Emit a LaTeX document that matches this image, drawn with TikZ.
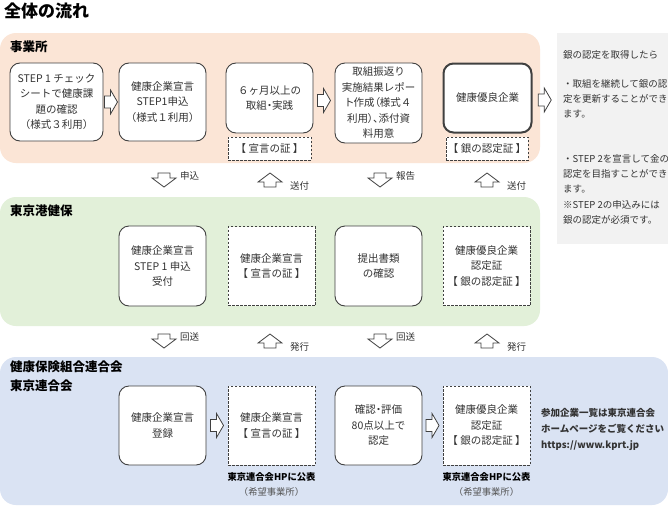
\documentclass[tikz,border=0pt]{standalone}
\usepackage{fontspec}
\setmainfont{Noto Sans CJK JP}
\newfontfamily\pfont{Noto Sans CJK JP}[RawFeature=+palt]
\usetikzlibrary{calc}
\definecolor{peach}{HTML}{FBE5D6}
\definecolor{mint}{HTML}{E2F0D9}
\definecolor{skyb}{HTML}{DAE3F3}
\definecolor{panel}{HTML}{F2F2F2}
\definecolor{ink}{HTML}{404040}
\definecolor{txt}{HTML}{333333}
\definecolor{soft}{HTML}{555555}
\tikzset{
  boxtext/.style={inner sep=0pt, align=center, text=txt, font=\fontsize{10.5}{15.5}\selectfont},
  box/.style={boxtext, draw=ink, line width=0.9pt, rounded corners=10pt, fill=white},
  thickbox/.style={box, line width=2pt},
  dbox/.style={boxtext, draw=ink, line width=0.8pt, dash pattern=on 2.5pt off 1.5pt, fill=white},
  band/.style={rounded corners=16pt},
  bandlabel/.style={anchor=west, inner sep=0pt, align=left, text=black, font=\bfseries\fontsize{12.5}{18.5}\selectfont},
  alabel/.style={anchor=west, inner sep=0pt, text=txt, font=\fontsize{9.5}{11}\selectfont},
  paneltext/.style={anchor=north west, inner sep=0pt, align=left, text=txt, font=\fontsize{9.5}{15.3}\selectfont},
  pubtext/.style={inner sep=0pt, align=center, text=black, font=\bfseries\fontsize{9.3}{15}\selectfont},
  blk/.style={draw=ink, line width=0.8pt, fill=white, line join=miter},
  rblk/.pic={\draw[blk] (-6.5,-6) -- (-0.5,-6) -- (-0.5,-12) -- (6.5,0) -- (-0.5,12) -- (-0.5,6) -- (-6.5,6) -- cycle;},
  dblk/.pic={\draw[blk] (-6,-7) -- (6,-7) -- (6,-2) -- (12,-2) -- (0,7) -- (-12,-2) -- (-6,-2) -- cycle;},
  ublk/.pic={\draw[blk] (-6,7) -- (6,7) -- (6,2) -- (12,2) -- (0,-7) -- (-12,2) -- (-6,2) -- cycle;}
}
\begin{document}
\begin{tikzpicture}[x=1pt,y=-1pt]
\useasboundingbox (0,0) rectangle (668,506);
\fill[white] (0,0) rectangle (668,506);

% title
\node[anchor=west, inner sep=0pt, font=\bfseries\fontsize{17}{20}\selectfont] (title) at (4,11) {全体の流れ};

% bands
\fill[peach, band] (0,33) rectangle (540,163);
\fill[mint, band] (0,197) rectangle (540,326);
\fill[skyb, band] (0,357) rectangle (668,505);
\fill[panel] (557,33) rectangle (668,244);

\node[bandlabel] (l1) at (10,47) {事業所};
\node[bandlabel] (l2) at (10,211) {東京港健保};
\node[bandlabel, anchor=north west] (l3) at (10,361) {健康保険組合連合会\\東京連合会};

% row 1
\node[box, minimum width=93pt, minimum height=78pt] (a1) at (56.5,102) {STEP 1 チェック\\シートで健康課\\題の確認\\（様式３利用）};
\node[box, minimum width=87pt, minimum height=78pt] (a2) at (162.5,102) {健康企業宣言\\STEP1申込\\（様式１利用）};
\node[box, minimum width=87pt, minimum height=70pt] (a3) at (269.5,98) {６ヶ月以上の\\取組{\pfont ・}実践};
\node[dbox, minimum width=83pt, minimum height=23pt] (a3c) at (269.5,148.5) {【 宣言の証 】};
\node[box, minimum width=87pt, minimum height=80pt] (a4) at (378.5,103) {取組振返り\\実施結果レポー\\{\pfont ト作成（}様式４\\{\pfont 利用）、}添付資\\料用意};
\node[thickbox, minimum width=88pt, minimum height=69pt] (a5) at (487.5,98) {健康優良企業};
\node[dbox, minimum width=82pt, minimum height=23pt] (a5c) at (487,148.5) {【 銀の認定証 】};

\path ($(a1.east)!0.5!(a2.west)$) pic{rblk};
\path ($(a3.east)!0.5!(a4.west)$) pic{rblk};
\coordinate (pl) at (557,102);
\path ($(a5.east)!0.5!(pl)$) pic{rblk};

% panel text
\node[paneltext] (pt1) at (563,50) {銀の認定を取得したら};
\node[paneltext] (pt2) at (563,79) {・取組を継続して銀の認\\定を更新することができ\\ます。};
\node[paneltext] (pt3) at (563,154) {・STEP 2を宣言して金の\\認定を目指すことができ\\ます。\\※STEP 2の申込みには\\銀の認定が必須です。};

% arrows between band 1 and 2
\path (164,180) pic{dblk} ++(16,-4) node[alabel] {申込};
\path (270,180) pic{ublk} ++(20,6) node[alabel] {送付};
\path (380,180) pic{dblk} ++(16,-4) node[alabel] {報告};
\path (487,180) pic{ublk} ++(20,6) node[alabel] {送付};

% row 2
\node[box, minimum width=87pt, minimum height=80pt] (b1) at (162.5,266) {健康企業宣言\\STEP 1 申込\\受付};
\node[dbox, minimum width=87pt, minimum height=79pt] (b2) at (271.5,266) {健康企業宣言\\【 宣言の証 】};
\node[box, minimum width=87pt, minimum height=80pt] (b3) at (378.5,266) {提出書類\\の確認};
\node[dbox, minimum width=87pt, minimum height=79pt] (b4) at (486.5,266) {健康優良企業\\認定証\\【 銀の認定証 】};

% arrows between band 2 and 3
\path (164,341) pic{dblk} ++(16,-4) node[alabel] {回送};
\path (270,341) pic{ublk} ++(20,6) node[alabel] {発行};
\path (380,341) pic{dblk} ++(16,-4) node[alabel] {回送};
\path (487,341) pic{ublk} ++(20,6) node[alabel] {発行};

% row 3
\node[box, minimum width=87pt, minimum height=79pt] (c1) at (162.5,425.5) {健康企業宣言\\登録};
\node[dbox, minimum width=87pt, minimum height=79pt] (c2) at (271.5,425.5) {健康企業宣言\\【 宣言の証 】};
\node[box, minimum width=87pt, minimum height=79pt] (c3) at (378.5,425.5) {確認{\pfont ・}評価\\80点以上で\\認定};
\node[dbox, minimum width=87pt, minimum height=79pt] (c4) at (486.5,425.5) {健康優良企業\\認定証\\【 銀の認定証 】};

\path ($(c1.east)!0.5!(c2.west)$) pic{rblk};
\path ($(c3.east)!0.5!(c4.west)$) pic{rblk};

\node[pubtext, anchor=north] (p1) at ($(c2.south)+(0,7)$) {東京連合会HPに公表\\\textmd{\color{soft}（希望事業所）}};
\node[pubtext, anchor=north] (p2) at ($(c4.south)+(0,7)$) {東京連合会HPに公表\\\textmd{\color{soft}（希望事業所）}};

\node[anchor=north west, inner sep=0pt, align=left, text=txt, font=\bfseries\fontsize{9.5}{16}\selectfont] (info) at (541,408) {参加企業一覧は東京連合会\\ホームページをご覧ください\\https://www.kprt.jp};
\end{tikzpicture}
\end{document}
